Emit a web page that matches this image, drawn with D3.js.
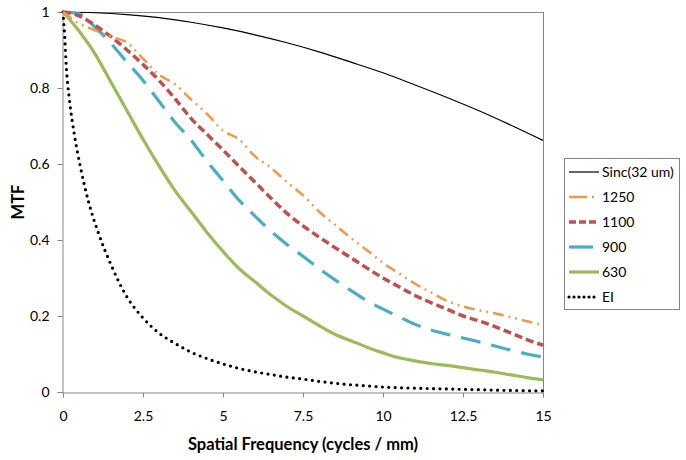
<!DOCTYPE html>
<html>
<head>
<meta charset="utf-8">
<script src="https://cdn.jsdelivr.net/npm/d3@7"></script>
<style>
  html, body { margin: 0; padding: 0; background: #fff; }
  svg { display: block; }
  text { font-family: Lato, "Open Sans", sans-serif; fill: #000; }
</style>
</head>
<body>
<svg id="chart" width="686" height="460"></svg>
<script>
// ---- data ----
const xTicks = [0, 2.5, 5, 7.5, 10, 12.5, 15];
const yTicks = [0, 0.2, 0.4, 0.6, 0.8, 1];
const seriesNames = ["Sinc(32 um)", "1250", "1100", "900", "630", "EI"];

const freqSinc = [0, 1, 2, 3, 4, 5, 6, 7, 8, 9, 10, 11, 12, 13, 14, 15];
const sinc32 = [1, 0.998, 0.993, 0.985, 0.973, 0.958, 0.940, 0.919, 0.895, 0.868, 0.840, 0.808, 0.775, 0.740, 0.702, 0.662];

const freq = [0, 0.5, 1, 1.5, 2, 2.5, 3, 3.5, 4, 4.5, 5, 5.5, 6, 6.5, 7, 7.5, 8, 8.5, 9, 9.5, 10, 10.5, 11, 11.5, 12, 12.5, 13, 13.5, 14, 14.5, 15];
const s1250 = [1, 0.97, 0.952, 0.935, 0.92, 0.877, 0.835, 0.81, 0.77, 0.732, 0.688, 0.665, 0.62, 0.59, 0.552, 0.518, 0.475, 0.44, 0.405, 0.373, 0.34, 0.312, 0.285, 0.262, 0.24, 0.225, 0.215, 0.207, 0.197, 0.186, 0.177];
const s1100 = [1, 0.99, 0.965, 0.935, 0.9, 0.862, 0.82, 0.772, 0.72, 0.678, 0.637, 0.594, 0.552, 0.51, 0.47, 0.437, 0.408, 0.38, 0.353, 0.326, 0.3, 0.277, 0.254, 0.235, 0.218, 0.2, 0.187, 0.172, 0.155, 0.138, 0.123];
const s900 = [1, 0.995, 0.96, 0.917, 0.868, 0.82, 0.765, 0.71, 0.663, 0.607, 0.556, 0.505, 0.463, 0.423, 0.388, 0.357, 0.325, 0.295, 0.267, 0.24, 0.218, 0.198, 0.178, 0.163, 0.152, 0.142, 0.132, 0.121, 0.11, 0.1, 0.092];
const s630 = [1, 0.95, 0.89, 0.815, 0.74, 0.665, 0.595, 0.53, 0.475, 0.42, 0.37, 0.325, 0.29, 0.255, 0.225, 0.2, 0.175, 0.152, 0.135, 0.118, 0.103, 0.09, 0.082, 0.075, 0.07, 0.064, 0.058, 0.052, 0.045, 0.038, 0.032];

const freqEI = [0, 0.05, 0.1, 0.2, 0.35, 0.55, 0.8, 1.1, 1.5, 2, 2.5, 3, 3.5, 4, 4.5, 5, 5.5, 6, 6.5, 7, 7.5, 8, 8.5, 9, 9.5, 10, 11, 12, 13, 14, 15];
const sEI = [1, 0.94, 0.86, 0.77, 0.68, 0.59, 0.5, 0.42, 0.335, 0.25, 0.195, 0.155, 0.128, 0.105, 0.088, 0.074, 0.062, 0.053, 0.046, 0.039, 0.034, 0.028, 0.023, 0.019, 0.016, 0.013, 0.01, 0.008, 0.006, 0.004, 0.003];

// ---- styles ----
const styles = [
  { color: "#000000", width: 1.2, dash: null, cap: "butt" },
  { color: "#F79646", width: 2.5, dash: "11,5,1.8,5,1.8,5", cap: "butt" },
  { color: "#C0504D", width: 3.5, dash: "8,4", cap: "butt" },
  { color: "#4BACC6", width: 3.2, dash: "20,11", cap: "butt" },
  { color: "#9BBB59", width: 3.2, dash: null, cap: "butt" },
  { color: "#000000", width: 3.2, dash: "0,6.4", cap: "round" }
];

const series = [
  { name: seriesNames[0], x: freqSinc, y: sinc32 },
  { name: seriesNames[1], x: freq, y: s1250 },
  { name: seriesNames[2], x: freq, y: s1100 },
  { name: seriesNames[3], x: freq, y: s900 },
  { name: seriesNames[4], x: freq, y: s630 },
  { name: seriesNames[5], x: freqEI, y: sEI }
];

const svg = d3.select("#chart");
const m = { left: 63, top: 12, right: 543, bottom: 392 };
const x = d3.scaleLinear().domain([0, 15]).range([m.left, m.right]);
const y = d3.scaleLinear().domain([0, 1]).range([m.bottom, m.top]);
const axisColor = "#868686";

// plot border (top & right)
svg.append("line").attr("x1", m.left).attr("x2", m.right + 0.5).attr("y1", m.top + 0.5).attr("y2", m.top + 0.5)
  .attr("stroke", axisColor).attr("stroke-width", 1);
svg.append("line").attr("x1", m.right + 0.5).attr("x2", m.right + 0.5).attr("y1", m.top).attr("y2", m.bottom)
  .attr("stroke", axisColor).attr("stroke-width", 1);

// axes
const xAxis = d3.axisBottom(x).tickValues(xTicks).tickSize(5).tickPadding(14)
  .tickFormat(d => String(d));
const yAxis = d3.axisLeft(y).tickValues(yTicks).tickSize(5).tickPadding(8)
  .tickFormat(d => String(+d.toFixed(1)));

const gx = svg.append("g").attr("transform", `translate(0,${m.bottom + 0.5})`).call(xAxis);
const gy = svg.append("g").attr("transform", `translate(${m.left - 0.5},0)`).call(yAxis);
[gx, gy].forEach(g => {
  g.select(".domain").attr("stroke", axisColor);
  g.selectAll(".tick line").attr("stroke", axisColor);
  g.selectAll(".tick text").attr("font-size", 14).attr("font-family", "Lato, 'Open Sans', sans-serif").attr("fill", "#000");
});

// lines
const line = d3.line().curve(d3.curveMonotoneX);
const drawOrder = [0, 5, 4, 3, 2, 1];
drawOrder.forEach(i => {
  const s = series[i], st = styles[i];
  const pts = s.x.map((xv, k) => [x(xv), y(s.y[k])]);
  svg.append("path").attr("d", line(pts))
    .attr("fill", "none").attr("stroke", st.color).attr("stroke-width", st.width)
    .attr("stroke-dasharray", st.dash).attr("stroke-linecap", st.cap).attr("stroke-linejoin", "round");
});

// axis titles
svg.append("text").attr("x", (m.left + m.right) / 2).attr("y", 450).attr("text-anchor", "middle")
  .attr("font-size", 16.5).attr("font-weight", "bold").text("Spatial Frequency (cycles / mm)");
svg.append("text").attr("transform", `translate(24,${(m.top + m.bottom) / 2}) rotate(-90)`).attr("text-anchor", "middle")
  .attr("font-size", 16.5).attr("font-weight", "bold").text("MTF");

// legend
const lg = svg.append("g");
lg.append("rect").attr("x", 564.5).attr("y", 158.5).attr("width", 115).attr("height", 151)
  .attr("fill", "#fff").attr("stroke", axisColor).attr("stroke-width", 1);
const legendDash = [null, "18,5,2,5", "7,3", null, null, "0,5"];
series.forEach((s, i) => {
  const st = styles[i];
  const ly = 172 + i * 25;
  let x1 = 569, x2 = 599;
  if (i === 3) { x1 = 569; x2 = 593; }
  lg.append("line").attr("x1", x1).attr("x2", x2).attr("y1", ly).attr("y2", ly)
    .attr("stroke", st.color).attr("stroke-width", i === 0 ? 1.2 : st.width)
    .attr("stroke-dasharray", legendDash[i]).attr("stroke-linecap", st.cap);
  lg.append("text").attr("x", 602).attr("y", ly + 5).attr("font-size", 14).text(s.name);
});
</script>
</body>
</html>
